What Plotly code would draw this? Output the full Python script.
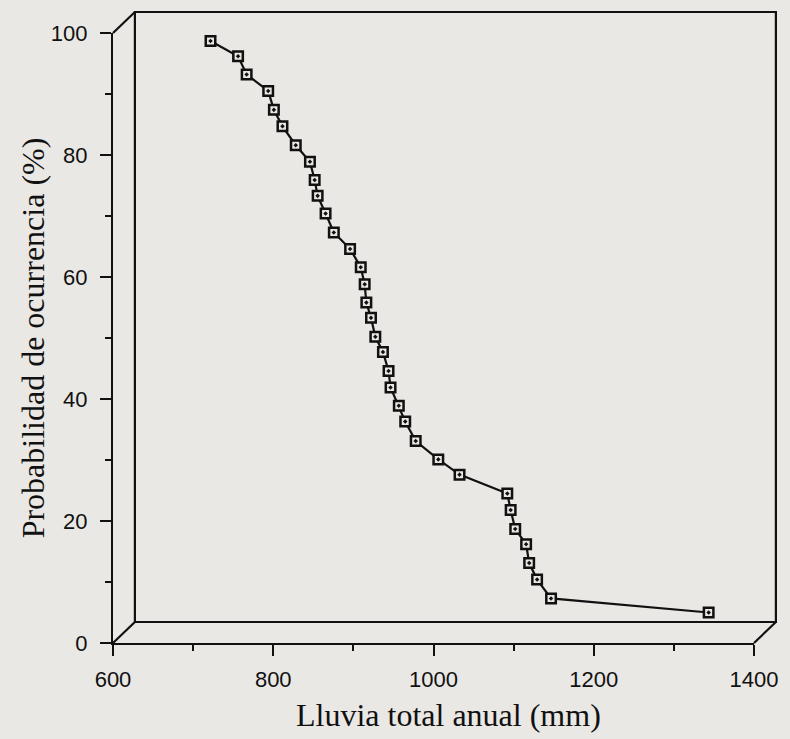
import plotly.graph_objects as go

# Data (front-axis coordinates)
lluvia_mm = [721.7, 756.1, 766.8, 793.7, 800.8, 811.5, 828.1, 845.8, 851.7, 855.4,
             865.3, 875.6, 895.9, 909.2, 914.1, 916.2, 922.0, 927.4, 936.9, 943.9,
             946.4, 956.7, 964.7, 977.8, 1006.0, 1032.5, 1092.1, 1096.3, 1102.0, 1115.6,
             1119.4, 1129.3, 1146.7, 1343.4]
probabilidad_pct = [98.7, 96.2, 93.2, 90.5, 87.4, 84.7, 81.6, 78.9, 75.9, 73.3,
                    70.4, 67.3, 64.6, 61.6, 58.8, 55.8, 53.3, 50.2, 47.7, 44.6,
                    41.9, 38.9, 36.3, 33.1, 30.1, 27.6, 24.5, 21.8, 18.7, 16.2,
                    13.1, 10.4, 7.3, 5.0]
x_ticks = [600, 800, 1000, 1200, 1400]
y_ticks = [0, 20, 40, 60, 80, 100]
x_title = "Lluvia total anual (mm)"
y_title = "Probabilidad de ocurrencia (%)"

BG = "#eae8e4"
INK = "#111111"
W, H = 790, 739
ML, MR, MT, MB = 113, 33, 33, 96
PW, PH = W - ML - MR, H - MT - MB
DX, DY = 22 / PW, 21 / PH  # depth offset of the back plane, in paper units

fig = go.Figure()
fig.add_trace(go.Scatter(
    x=lluvia_mm, y=probabilidad_pct, mode="lines+markers",
    line=dict(color=INK, width=2.2),
    marker=dict(symbol="square-dot", size=9.5, color=BG,
                line=dict(color=INK, width=2.5)),
    cliponaxis=False, showlegend=False,
))

line = dict(color=INK, width=2.2)
shapes = [
    # back plane
    dict(type="rect", xref="paper", yref="paper", x0=DX, y0=DY, x1=1 + DX, y1=1 + DY, line=line),
    # depth connectors
    dict(type="line", xref="paper", yref="paper", x0=0, y0=1, x1=DX, y1=1 + DY, line=line),
    dict(type="line", xref="paper", yref="paper", x0=0, y0=0, x1=DX, y1=DY, line=line),
    dict(type="line", xref="paper", yref="paper", x0=1, y0=0, x1=1 + DX, y1=DY, line=line),
]

axis_common = dict(
    showline=True, linecolor=INK, linewidth=2.2, showgrid=False, zeroline=False,
    ticks="outside", ticklen=11, tickwidth=2, tickcolor=INK,
    tickfont=dict(family="Liberation Sans, Arial", size=22, color=INK),
)

title_font = dict(family="Liberation Serif, Times New Roman", size=32, color=INK)

fig.update_layout(
    width=W, height=H,
    margin=dict(l=ML, r=MR, t=MT, b=MB),
    paper_bgcolor=BG, plot_bgcolor=BG,
    shapes=shapes,
    xaxis=dict(range=[600, 1400], tickvals=x_ticks, ticklabelstandoff=4,
               minor=dict(dtick=100, ticklen=6, tickwidth=2, tickcolor=INK, ticks="outside"),
               **axis_common),
    yaxis=dict(range=[0, 100], tickvals=y_ticks, ticklabelstandoff=8,
               minor=dict(dtick=10, ticklen=6, tickwidth=2, tickcolor=INK, ticks="outside"),
               **axis_common),
    annotations=[
        dict(text=x_title, xref="paper", yref="paper", x=(450 - ML) / PW, y=-(715 - (MT + PH)) / PH,
             showarrow=False, xanchor="center", yanchor="middle", font=title_font),
        dict(text=y_title, xref="paper", yref="paper", x=-(ML - 33) / PW, y=0.5,
             showarrow=False, xanchor="center", yanchor="middle", textangle=-90, font=title_font),
    ],
)

fig.write_html(
    "out.html",
    config={"displayModeBar": False},
    post_script="document.body.style.margin='0';document.body.style.background='" + BG + "';",
)
